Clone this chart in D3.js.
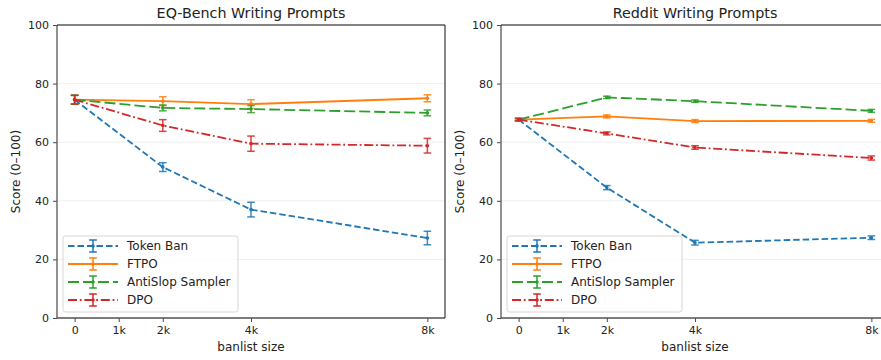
<!DOCTYPE html>
<meta charset="utf-8">
<html>
<head>
<script src="https://cdn.jsdelivr.net/npm/d3@7"></script>
<style>
  body { margin: 0; background: #fff; }
  svg text { font-family: "DejaVu Sans", sans-serif; fill: #222; }
</style>
</head>
<body>
<script>
// banlist sizes (x) and tick labels
var sizes = [0, 2000, 4000, 8000];
var xTicks = [0, 1000, 2000, 4000, 8000];
var xTickLabels = ["0", "1k", "2k", "4k", "8k"];
var yTicks = [0, 20, 40, 60, 80, 100];

var methods = ["Token Ban", "FTPO", "AntiSlop Sampler", "DPO"];
var colors = ["#1f77b4", "#ff7f0e", "#2ca02c", "#d62728"];
var dashes = ["6.5,3", null, "11,4", "9,2.8,1.8,2.8"];

// EQ-Bench Writing Prompts
var eqTokenBan = [74.5, 51.5, 37.0, 27.3];
var eqTokenBanErr = [1.5, 1.5, 2.5, 2.3];
var eqFtpo = [74.5, 74.0, 73.0, 75.0];
var eqFtpoErr = [1.5, 1.5, 1.5, 1.2];
var eqAntiSlop = [74.5, 71.7, 71.3, 70.0];
var eqAntiSlopErr = [1.5, 1.0, 1.2, 1.0];
var eqDpo = [74.5, 65.7, 59.5, 58.8];
var eqDpoErr = [1.5, 2.0, 2.6, 2.5];

// Reddit Writing Prompts
var rdTokenBan = [67.7, 44.5, 25.7, 27.4];
var rdTokenBanErr = [0.4, 0.7, 0.8, 0.6];
var rdFtpo = [67.7, 68.8, 67.2, 67.3];
var rdFtpoErr = [0.4, 0.5, 0.5, 0.5];
var rdAntiSlop = [67.7, 75.3, 74.0, 70.7];
var rdAntiSlopErr = [0.4, 0.4, 0.4, 0.5];
var rdDpo = [67.7, 63.0, 58.2, 54.6];
var rdDpoErr = [0.4, 0.5, 0.6, 0.7];

var W = 881, H = 360;
var svg = d3.select("body").append("svg")
  .attr("width", W).attr("height", H);

var defs = svg.append("defs");

function panel(id, left, title, series, errs) {
  var top = 25, bottom = 318, right = left + 388;
  var x = d3.scaleLinear().domain([-400, 8400]).range([left, right]);
  var y = d3.scaleLinear().domain([0, 100]).range([bottom, top]);

  defs.append("clipPath").attr("id", "clip" + id)
    .append("rect").attr("x", left).attr("y", top)
    .attr("width", right - left).attr("height", bottom - top);

  var g = svg.append("g");

  // horizontal grid
  g.append("g").selectAll("line").data(yTicks).enter().append("line")
    .attr("x1", left).attr("x2", right)
    .attr("y1", d => y(d)).attr("y2", d => y(d))
    .attr("stroke", "#ebebeb").attr("stroke-width", 0.8);

  var plot = g.append("g").attr("clip-path", "url(#clip" + id + ")");

  var line = d3.line().x((d, i) => x(sizes[i])).y(d => y(d));

  series.forEach(function(vals, k) {
    var c = colors[k];
    var s = plot.append("g");
    // error bars
    vals.forEach(function(v, i) {
      var e = errs[k][i], cx = x(sizes[i]);
      s.append("line").attr("x1", cx).attr("x2", cx)
        .attr("y1", y(v - e)).attr("y2", y(v + e))
        .attr("stroke", c).attr("stroke-width", 1.5).attr("opacity", 0.85);
      [v - e, v + e].forEach(function(t) {
        s.append("line").attr("x1", cx - 3.8).attr("x2", cx + 3.8)
          .attr("y1", y(t)).attr("y2", y(t))
          .attr("stroke", c).attr("stroke-width", 1.5).attr("opacity", 0.85);
      });
    });
    s.append("path").datum(vals)
      .attr("d", line)
      .attr("fill", "none")
      .attr("stroke", c).attr("stroke-width", 1.8)
      .attr("stroke-dasharray", dashes[k]);
    s.selectAll("circle").data(vals).enter().append("circle")
      .attr("cx", (d, i) => x(sizes[i])).attr("cy", d => y(d))
      .attr("r", 1.8).attr("fill", c);
  });

  // axes
  var ax = g.append("g").attr("transform", "translate(0," + bottom + ")")
    .call(d3.axisBottom(x).tickValues(xTicks)
      .tickFormat((d, i) => xTickLabels[i]).tickSize(4).tickPadding(4));
  var ay = g.append("g").attr("transform", "translate(" + left + ",0)")
    .call(d3.axisLeft(y).tickValues(yTicks).tickSize(4).tickPadding(4));
  [ax, ay].forEach(function(a) {
    a.select(".domain").remove();
    a.selectAll("line").attr("stroke", "#333").attr("stroke-width", 0.9);
    a.selectAll("text").style("font-size", "11px").attr("fill", "#222")
      .style("font-family", "DejaVu Sans, sans-serif");
  });

  // spines
  g.append("line").attr("x1", left).attr("x2", left).attr("y1", top).attr("y2", bottom)
    .attr("stroke", "#555").attr("stroke-width", 1.3);
  g.append("line").attr("x1", left).attr("x2", right).attr("y1", bottom).attr("y2", bottom)
    .attr("stroke", "#555").attr("stroke-width", 1.3);
  g.append("line").attr("x1", left).attr("x2", right).attr("y1", top).attr("y2", top)
    .attr("stroke", "#111").attr("stroke-width", 1);
  g.append("line").attr("x1", right).attr("x2", right).attr("y1", top).attr("y2", bottom)
    .attr("stroke", "#111").attr("stroke-width", 1);

  // title and labels
  g.append("text").attr("x", (left + right) / 2).attr("y", 18)
    .attr("text-anchor", "middle").style("font-size", "14.3px").text(title);
  g.append("text").attr("x", x(4000)).attr("y", 351)
    .attr("text-anchor", "middle").style("font-size", "12px").text("banlist size");
  g.append("text")
    .attr("transform", "translate(" + (left - 37) + "," + ((top + bottom) / 2) + ") rotate(-90)")
    .attr("text-anchor", "middle").style("font-size", "12px").text("Score (0\u2013100)");

  // legend
  var lx = left + 6, ly = 236;
  var lg = g.append("g");
  lg.append("rect").attr("x", lx).attr("y", ly).attr("width", 175).attr("height", 76)
    .attr("rx", 2.5).attr("fill", "#fff").attr("fill-opacity", 0.8)
    .attr("stroke", "#ccc").attr("stroke-width", 0.8);
  methods.forEach(function(m, k) {
    var yy = ly + 10 + k * 18, c = colors[k];
    lg.append("line").attr("x1", lx + 5).attr("x2", lx + 55).attr("y1", yy).attr("y2", yy)
      .attr("stroke", c).attr("stroke-width", 1.8).attr("stroke-dasharray", dashes[k]);
    lg.append("line").attr("x1", lx + 30).attr("x2", lx + 30).attr("y1", yy - 6).attr("y2", yy + 6)
      .attr("stroke", c).attr("stroke-width", 1.5);
    [yy - 6, yy + 6].forEach(function(t) {
      lg.append("line").attr("x1", lx + 26.2).attr("x2", lx + 33.8).attr("y1", t).attr("y2", t)
        .attr("stroke", c).attr("stroke-width", 1.5);
    });
    lg.append("circle").attr("cx", lx + 30).attr("cy", yy).attr("r", 1.8).attr("fill", c);
    lg.append("text").attr("x", lx + 64).attr("y", yy + 4.3)
      .style("font-size", "12px").text(m);
  });
}

panel("a", 57, "EQ-Bench Writing Prompts",
  [eqTokenBan, eqFtpo, eqAntiSlop, eqDpo],
  [eqTokenBanErr, eqFtpoErr, eqAntiSlopErr, eqDpoErr]);
panel("b", 501, "Reddit Writing Prompts",
  [rdTokenBan, rdFtpo, rdAntiSlop, rdDpo],
  [rdTokenBanErr, rdFtpoErr, rdAntiSlopErr, rdDpoErr]);
</script>
</body>
</html>
